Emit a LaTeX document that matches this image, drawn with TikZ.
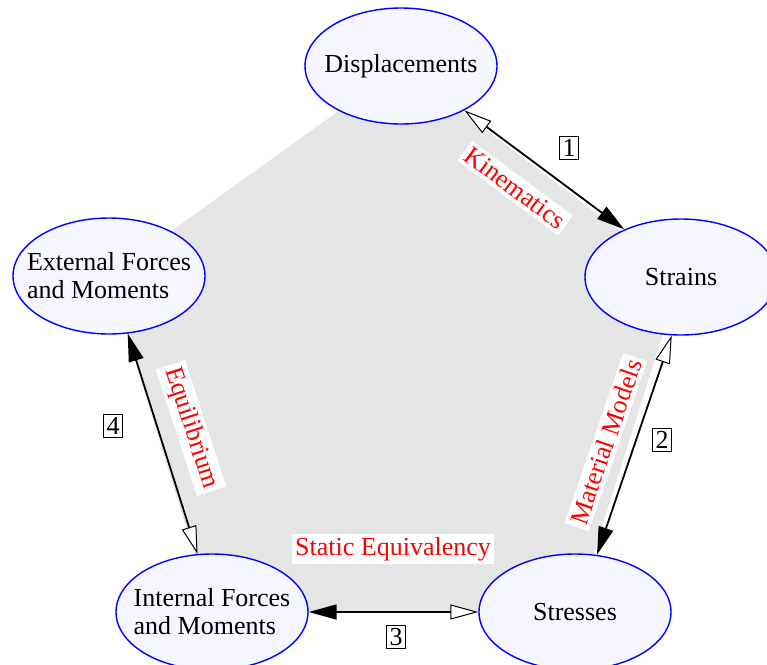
\documentclass[tikz,border=0pt]{standalone}
\usepackage{fontspec}
\setmainfont{Liberation Serif}
\usepackage{xcolor}
\usetikzlibrary{arrows.meta,shapes.geometric}

\definecolor{blobfill}{HTML}{F5F6FF}
\definecolor{pentagon}{HTML}{E5E5E5}

\begin{document}
\begin{tikzpicture}[x=0.5pt, y=-0.5pt,
		every node/.style={font=\fontsize{13}{14}\selectfont},
		blob/.style={ellipse, draw=blue, line width=0.7pt, fill=blobfill, minimum width=96pt, minimum height=58pt, inner sep=0pt},
		relation/.style={red, fill=white, inner sep=1.8pt},
		stepno/.style={draw, line width=0.5pt, inner sep=1.5pt},
		link/.style={line width=0.9pt, {Triangle[fill=white, line width=0.5pt, length=14pt, width=7.5pt]}-{Triangle[length=14pt, width=7.5pt]}}]
			\useasboundingbox (0, 0) rectangle (767, 665);

			\coordinate (disp-c) at (401, 66);
			\coordinate (strain-c) at (681, 277);
			\coordinate (stress-c) at (575, 612);
			\coordinate (intl-c) at (212, 612);
			\coordinate (ext-c) at (109, 276);

			\fill [pentagon] (disp-c) -- (strain-c) -- (stress-c) -- (intl-c) -- (ext-c) -- cycle;

			\node (disp) at (disp-c) [blob] {};
			\node (strain) at (strain-c) [blob] {};
			\node (stress) at (stress-c) [blob] {};
			\node (intl) at (intl-c) [blob] {};
			\node (ext) at (ext-c) [blob] {};

			\node (disp-t) at (disp) {Displacements};
			\node (strain-t) at (strain) {Strains};
			\node (stress-t) at (stress) {Stresses};
			\node (intl-t) at (intl) [align=left] {Internal Forces\\and Moments};
			\node (ext-t) at (ext) [align=left] {External Forces\\and Moments};

			\draw [link] (disp.-35) -- (strain.140);
			\draw [link] (strain.-99) -- (stress.69);
			\draw [link] (stress.west) -- (intl.east);
			\draw [link] (intl.104) -- (ext.-72);

			\node (kin) at (515, 188) [relation, rotate=-36.7] {Kinematics};
			\node (mat) at (606, 442) [relation, rotate=71] {Material Models};
			\node (stat) at (393, 549) [relation] {Static Equivalency};
			\node (equ) at (191, 428) [relation, rotate=-72] {Equilibrium};

			\node (n1) at (569, 148) [stepno] {1};
			\node (n2) at (662, 440) [stepno] {2};
			\node (n3) at (396, 637) [stepno] {3};
			\node (n4) at (113, 426) [stepno] {4};
		\end{tikzpicture}
\end{document}
